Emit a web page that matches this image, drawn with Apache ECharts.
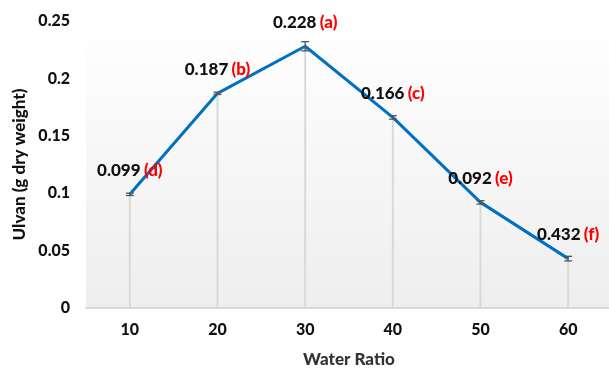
<!DOCTYPE html>
<html>
<head>
<meta charset="utf-8">
<script src="https://cdn.jsdelivr.net/npm/echarts@6/dist/echarts.min.js"></script>
<style>
  html, body { margin: 0; padding: 0; background: #ffffff; }
  #chart { width: 609px; height: 371px; }
</style>
</head>
<body>
<div id="chart"></div>
<script>
// Ulvan yield by water ratio
const categories = ['10', '20', '30', '40', '50', '60'];
const ulvan = [0.099, 0.187, 0.228, 0.166, 0.092, 0.043];
const errors = [0.001, 0.001, 0.004, 0.0015, 0.0015, 0.002];
const valueTexts = ['0.099', '0.187', '0.228', '0.166', '0.092', '0.432'];
const letters = ['d', 'b', 'a', 'c', 'e', 'f'];

const FONT = 'Lato, "Open Sans", sans-serif';

const chart = echarts.init(document.getElementById('chart'), null, { renderer: 'canvas' });

const dropData = ulvan.map((v, i) => [i, v]);
const errData = ulvan.map((v, i) => [i, v - errors[i], v + errors[i]]);

chart.setOption({
  animation: false,
  grid: { left: 86, right: -3, top: 21, bottom: 63,
    outerBoundsMode: 'none',
    containLabel: false,
    show: true, borderWidth: 0,
    backgroundColor: {
      type: 'linear', x: 0, y: 0, x2: 0, y2: 1,
      colorStops: [{ offset: 0, color: '#ffffff' }, { offset: 1, color: '#eeeeee' }]
    }
  },
  xAxis: {
    type: 'category',
    data: categories,
    boundaryGap: true,
    name: 'Water Ratio',
    nameLocation: 'middle',
    nameGap: 43,
    nameMoveOverlap: false,
    nameTextStyle: { fontFamily: FONT, fontWeight: 900, fontSize: 17, color: '#333333' },
    axisLine: { lineStyle: { color: '#d9d9d9', width: 2 } },
    axisTick: { show: false },
    axisLabel: { fontFamily: FONT, fontWeight: 900, fontSize: 16, color: '#111111', margin: 14 }
  },
  yAxis: {
    type: 'value',
    min: 0, max: 0.25, interval: 0.05,
    name: 'Ulvan (g dry weight)',
    nameLocation: 'middle',
    nameGap: 58,
    nameMoveOverlap: false,
    nameTextStyle: { fontFamily: FONT, fontWeight: 900, fontSize: 17, color: '#111111' },
    axisLine: { show: false },
    axisTick: { show: false },
    splitLine: { show: false },
    axisLabel: { fontFamily: FONT, fontWeight: 900, fontSize: 16, color: '#111111', margin: 16,
      formatter: v => String(+v.toFixed(2)) }
  },
  series: [
    {
      // vertical drop lines from each point to the axis
      type: 'custom',
      z: 1,
      data: dropData,
      renderItem: (params, api) => {
        const top = api.coord([api.value(0), api.value(1)]);
        const bottom = api.coord([api.value(0), 0]);
        return {
          type: 'line',
          shape: { x1: top[0], y1: top[1], x2: bottom[0], y2: bottom[1] },
          style: { stroke: '#d9d9d9', lineWidth: 2 }
        };
      }
    },
    {
      type: 'line',
      z: 3,
      data: ulvan,
      symbol: 'circle',
      symbolSize: 1,
      showSymbol: true,
      itemStyle: { color: '#0070c0', opacity: 0 },
      lineStyle: { color: '#0070c0', width: 3 },
      label: {
        show: true,
        position: 'top',
        distance: 15,
        opacity: 1,
        formatter: p => '{v|' + valueTexts[p.dataIndex] + '} {l|(' + letters[p.dataIndex] + ')}',
        rich: {
          v: { fontFamily: FONT, fontWeight: 900, fontSize: 17, color: '#111111' },
          l: { fontFamily: FONT, fontWeight: 900, fontSize: 17, color: '#ff0000' }
        }
      }
    },
    {
      // error bars
      type: 'custom',
      z: 4,
      data: errData,
      renderItem: (params, api) => {
        const lo = api.coord([api.value(0), api.value(1)]);
        const hi = api.coord([api.value(0), api.value(2)]);
        const w = 4;
        const st = { stroke: '#555555', lineWidth: 1.3 };
        return {
          type: 'group',
          children: [
            { type: 'line', shape: { x1: lo[0], y1: lo[1], x2: hi[0], y2: hi[1] }, style: st },
            { type: 'line', shape: { x1: lo[0] - w, y1: lo[1], x2: lo[0] + w, y2: lo[1] }, style: st },
            { type: 'line', shape: { x1: hi[0] - w, y1: hi[1], x2: hi[0] + w, y2: hi[1] }, style: st }
          ]
        };
      }
    }
  ]
});
</script>
</body>
</html>
